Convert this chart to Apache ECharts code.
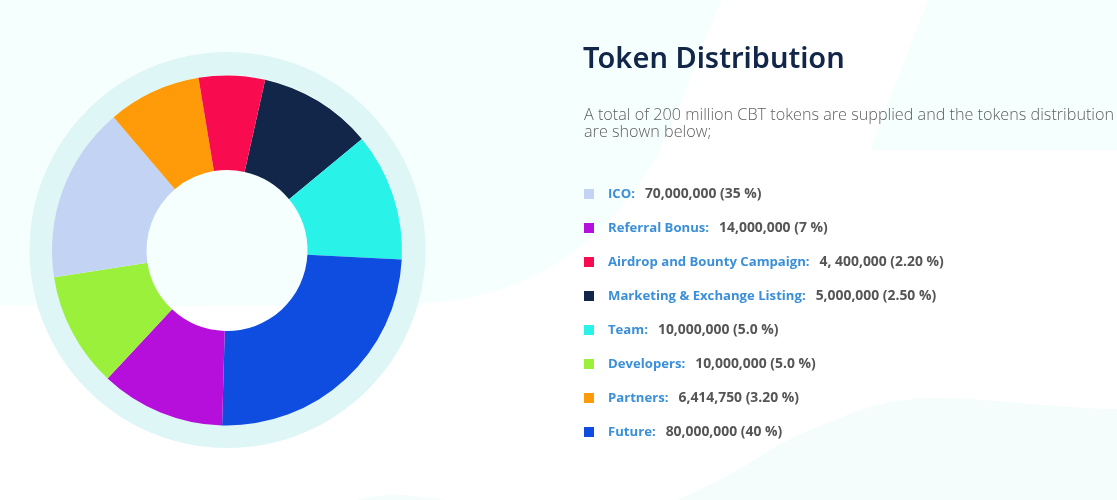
<!DOCTYPE html>
<html>
<head>
<meta charset="utf-8">
<style>
html,body{margin:0;padding:0;background:#fff;width:1117px;height:500px;overflow:hidden}
#bg{position:absolute;left:0;top:0}
#chart{position:absolute;left:0;top:0;width:1117px;height:500px}
</style>
<script src="https://cdn.jsdelivr.net/npm/echarts@6/dist/echarts.min.js"></script>
</head>
<body>
<svg id="bg" width="1117" height="500" viewBox="0 0 1117 500">
  <path fill="#f5fffe" d="M0 0H722L713 20C695 65 680 110 660 150C640 190 600 232 590 238C540 285 470 304 400 304Q200 307 0 305Z"/>
  <path fill="#f5fffe" d="M928 0L870 150H1117V0Z"/>
  <path fill="#f4fdfb" d="M677 500C700 490 736 473 770 450C800 432 835 420 860 410C885 402 910 398 935 398C990 398 1050 408 1117 409V500Z"/>
  <path fill="#f4fdfb" d="M355 500C375 495 395 494 415 496L447 500Z"/>
</svg>
<div id="chart"></div>
<script>
const titleText = 'Token Distribution';
const introText = 'A total of 200 million CBT tokens are supplied and the tokens distribution\nare shown below;';
const categories = ['ICO', 'Referral Bonus', 'Airdrop and Bounty Campaign', 'Marketing & Exchange Listing', 'Team', 'Developers', 'Partners', 'Future'];
const amountLabels = ['70,000,000 (35 %)', '14,000,000 (7 %)', '4, 400,000 (2.20 %)', '5,000,000 (2.50 %)', '10,000,000 (5.0 %)', '10,000,000 (5.0 %)', '6,414,750 (3.20 %)', '80,000,000 (40 %)'];
const colors = ['#c2d3f4', '#b60fdc', '#f90c4f', '#12264a', '#29f3e9', '#9bf03c', '#ff9b08', '#0f4ce0'];
// Slice sizes as drawn in the picture (share of the ring, %), clockwise
const ringOrder = ['Marketing & Exchange Listing', 'Team', 'Future', 'Referral Bonus', 'Developers', 'ICO', 'Partners', 'Airdrop and Bounty Campaign'];
const ringShares = [10.5, 11.8, 24.6, 11.5, 10.6, 16.2, 8.6, 6.1];

const chart = echarts.init(document.getElementById('chart'), null, {renderer: 'canvas'});
const font = '"Open Sans", "Noto Sans", sans-serif';
chart.setOption({
  animation: false,
  backgroundColor: 'transparent',
  title: [
    {text: titleText, left: 583, top: 45, padding: 0,
     textStyle: {fontFamily: '"Noto Sans", sans-serif', fontSize: 29, fontWeight: 600, color: '#12264a'}},
    {text: introText, left: 584, top: 107, padding: 0,
     textStyle: {fontFamily: font, fontSize: 16.2, fontWeight: 300, color: '#5f5f5f', lineHeight: 17}}
  ],
  legend: {
    orient: 'vertical', left: 584, top: 187, padding: 0,
    itemWidth: 10, itemHeight: 10, itemGap: 20, selectedMode: false,
    icon: 'rect',
    data: categories,
    formatter: name => `{n|${name}:}{v|${amountLabels[categories.indexOf(name)]}}`,
    textStyle: {
      fontFamily: font, fontSize: 13, lineHeight: 14,
      rich: {
        n: {fontFamily: font, fontSize: 13.15, fontWeight: 700, color: '#3a8fd8', padding: [0, 10, 0, 9], lineHeight: 14},
        v: {fontFamily: font, fontSize: 13.9, fontWeight: 700, color: '#555555', lineHeight: 14}
      }
    }
  },
  series: [
    {type: 'pie', silent: true, center: [227.5, 250], radius: [175, 198], startAngle: 90,
     label: {show: false}, labelLine: {show: false},
     itemStyle: {color: '#def6f5'}, data: [{name: 'ring', value: 1}]},
    {type: 'pie', center: [227, 250.5], radius: [80.5, 175], startAngle: 77.4,
     label: {show: false}, labelLine: {show: false}, silent: true,
     data: ringOrder.map((name, i) => ({
       name, value: ringShares[i],
       itemStyle: {color: colors[categories.indexOf(name)]}
     }))}
  ]
});
</script>
</body>
</html>
